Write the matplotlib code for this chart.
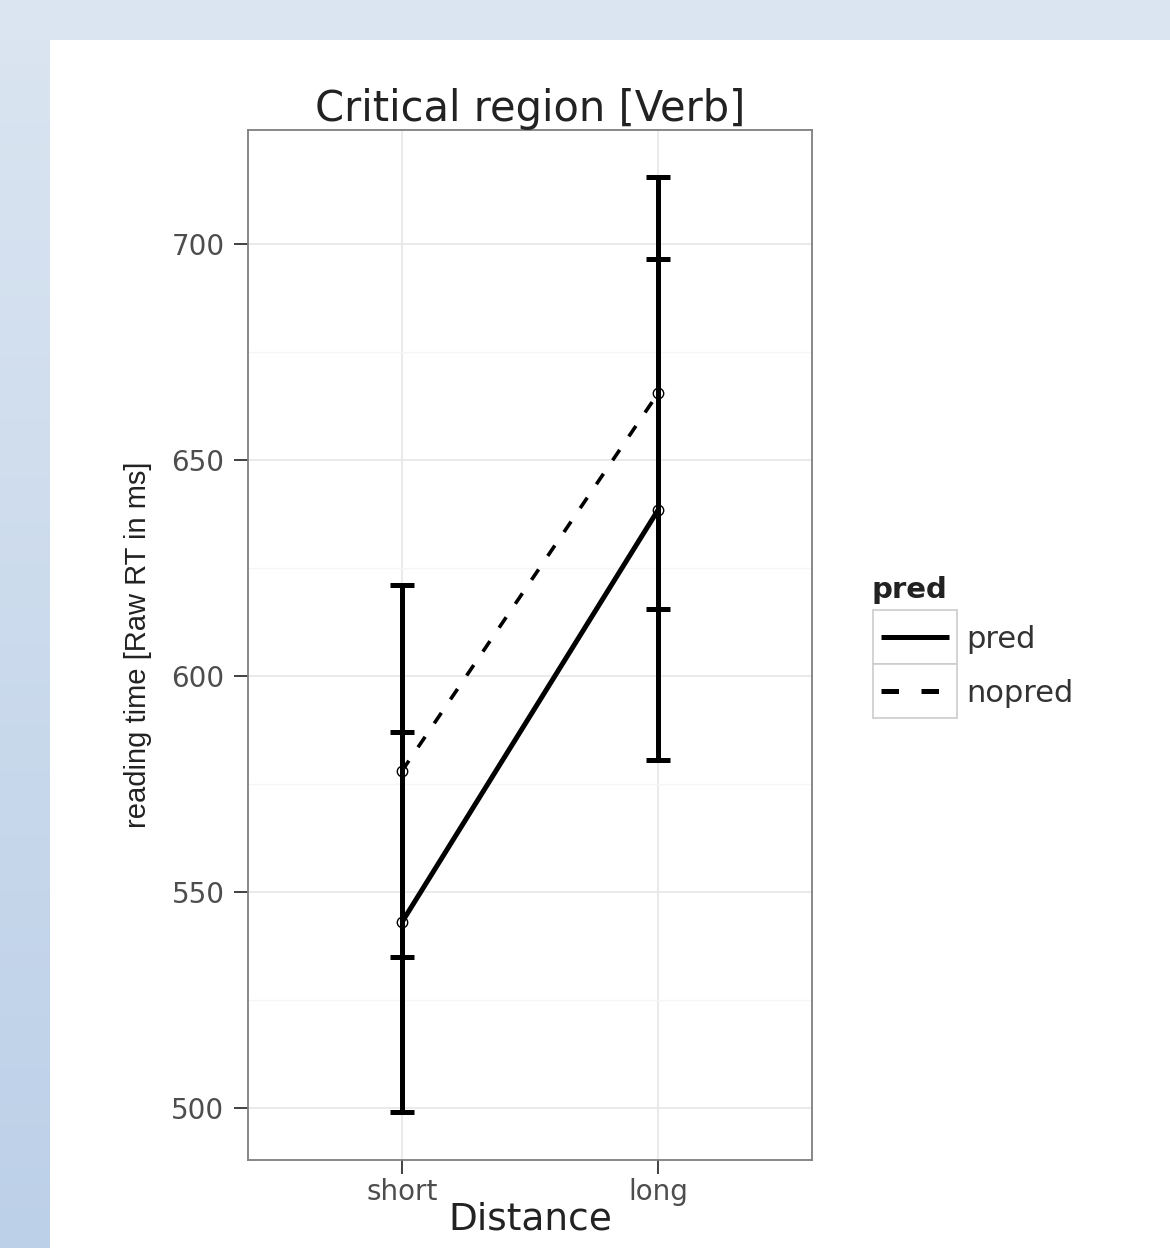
import matplotlib
matplotlib.use("Agg")
import matplotlib.pyplot as plt
import numpy as np
from matplotlib.patches import Rectangle

# ── Datos ──────────────────────────────────────────────────────
distance = ["short", "long"]
pred_mean = [543, 638.5]
pred_err = [44, 58]
nopred_mean = [578, 665.5]
nopred_err = [43, 50]
legend_labels = ["pred", "nopred"]

W, H = 1170, 1248
fig = plt.figure(figsize=(W / 100, H / 100), dpi=100)
fig.patch.set_facecolor("white")

# fondo tipo diapositiva: franja superior y franja lateral con degradado
bg = fig.add_axes([0, 0, 1, 1], zorder=-10)
bg.add_patch(Rectangle((0, 0), W, 40, color="#dbe5f1", lw=0))
grad = np.linspace(0, 1, 256).reshape(-1, 1)
bg.imshow(grad, extent=(0, 50, H, 0), aspect="auto",
          cmap=matplotlib.colors.LinearSegmentedColormap.from_list("g", ["#dbe5f1", "#bcd0e8"]))
bg.set_xlim(0, W)
bg.set_ylim(H, 0)
bg.axis("off")

wide = ["DejaVu Sans"]
narrow = ["Liberation Sans Narrow", "Liberation Sans", "DejaVu Sans"]

ax = fig.add_axes([248 / W, 1 - 1160 / H, (812 - 248) / W, (1160 - 130) / H])
x = np.arange(1, len(distance) + 1)

ax.errorbar(x, pred_mean, yerr=pred_err, fmt="none", ecolor="black",
            elinewidth=3.6, capsize=8.6, capthick=3.6, zorder=3)
ax.errorbar(x, nopred_mean, yerr=nopred_err, fmt="none", ecolor="black",
            elinewidth=3.6, capsize=8.6, capthick=3.6, zorder=3)
ax.plot(x, pred_mean, color="black", lw=3.6, solid_capstyle="butt", zorder=4)
ax.plot(x, nopred_mean, color="black", lw=2.6, dashes=(3.5, 4.5), dash_capstyle="butt", zorder=4)
ax.plot(x, pred_mean, "o", mfc="none", mec="black", ms=7.5, mew=1, zorder=5)
ax.plot(x, nopred_mean, "o", mfc="none", mec="black", ms=7.5, mew=1, zorder=5)

ax.set_xlim(0.4, 2.6)
ax.set_ylim(488, 726.4)
ax.set_xticks(x)
ax.set_xticklabels(distance)
ax.set_yticks([500, 550, 600, 650, 700])
ax.set_yticks([525, 575, 625, 675], minor=True)
ax.grid(which="major", color="#e6e6e6", lw=1.2)
ax.grid(which="minor", axis="y", color="#f5f5f5", lw=1)
ax.set_axisbelow(True)
ax.tick_params(axis="both", which="major", length=10, width=1.3, color="#333333",
               labelcolor="#4d4d4d", labelsize=20)
ax.tick_params(axis="y", pad=7)
ax.tick_params(axis="x", pad=3)
ax.tick_params(axis="y", which="minor", length=0)
for lab in ax.get_xticklabels() + ax.get_yticklabels():
    lab.set_family(wide)
for s in ax.spines.values():
    s.set_color("#7f7f7f")
    s.set_linewidth(1.3)

ax.set_title("Critical region [Verb]", fontsize=30, family=wide, color="#222222", pad=3)
ax.set_xlabel("Distance", fontsize=27, family=wide, color="#222222", labelpad=-3)
ax.set_ylabel("reading time [Raw RT in ms]", fontsize=21, family=narrow, color="#222222", labelpad=14)

# leyenda estilo ggplot
lx0, lx1, ly0, ly1 = 873, 957, 610, 718
leg = fig.add_axes([lx0 / W, 1 - ly1 / H, (lx1 - lx0) / W, (ly1 - ly0) / H])
leg.set_xlim(0, 1)
leg.set_ylim(2, 0)
leg.axis("off")
styles = [dict(lw=3.6, solid_capstyle="butt"), dict(lw=3.6, dashes=(3.5, 4.5), dash_capstyle="butt")]
for i, (lab, st) in enumerate(zip(legend_labels, styles)):
    leg.add_patch(Rectangle((0, i), 1, 1, fc="white", ec="#cccccc", lw=1.2, clip_on=False))
    leg.plot([0.1, 0.9], [i + 0.5, i + 0.5], color="black", **st)
    fig.text(966 / W, 1 - (ly0 + 54 * i + 29) / H, lab, fontsize=22, family=wide,
             color="#333333", va="center", ha="left")
fig.text(872 / W, 1 - 590 / H, "pred", fontsize=21, fontweight="bold", family=wide,
         color="#222222", va="center", ha="left")

fig.savefig("out.png", dpi=100)
